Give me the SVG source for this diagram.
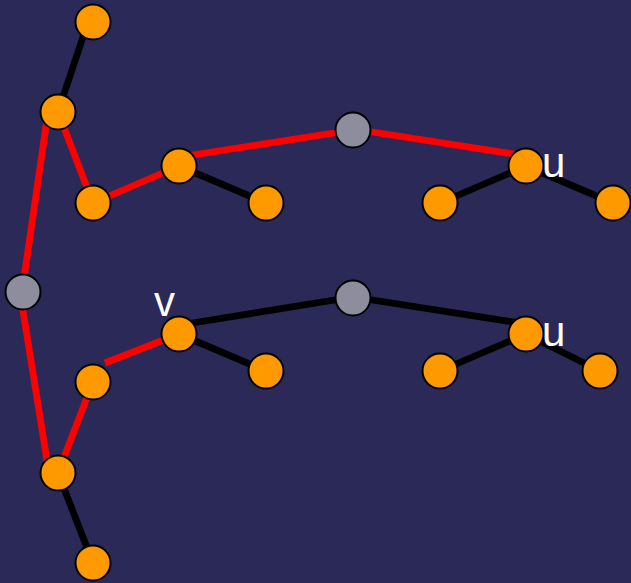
<svg xmlns="http://www.w3.org/2000/svg" width="631" height="583" viewBox="0 0 631 583">
<style>
.e{stroke-width:6.8;stroke-linecap:butt;fill:none}
.k{stroke:#000}
.r{stroke:#ff0000}
.o{fill:#ff9900;stroke:#000;stroke-width:2}
.g{fill:#8e8d9e;stroke:#000;stroke-width:2}
.t{fill:#fff;font-family:"Liberation Sans",Arial,sans-serif;font-size:42px}
</style>
<rect width="631" height="583" fill="#2b2958"/>
<g id="connectors">
<line class="e k" x1="88" y1="22" x2="58" y2="112"/>
<line class="e r" x1="58" y1="112" x2="93" y2="203"/>
<line class="e r" x1="48" y1="112" x2="22" y2="292"/>
<line class="e r" x1="93" y1="203" x2="179" y2="166"/>
<line class="e k" x1="179" y1="166" x2="266" y2="203"/>
<line class="e r" x1="180" y1="157" x2="353" y2="130"/>
<line class="e r" x1="353" y1="129" x2="526" y2="156"/>
<line class="e k" x1="526" y1="166" x2="440" y2="203"/>
<line class="e k" x1="526" y1="166" x2="613" y2="203"/>
<line class="e r" x1="20" y1="292" x2="49" y2="473"/>
<line class="e r" x1="58" y1="473" x2="93" y2="382"/>
<line class="e k" x1="58" y1="473" x2="93" y2="563"/>
<line class="e r" x1="105" y1="363" x2="179" y2="334"/>
<line class="e k" x1="179" y1="334" x2="266" y2="371"/>
<line class="e k" x1="180" y1="325" x2="353" y2="297"/>
<line class="e k" x1="353" y1="297" x2="526" y2="324"/>
<line class="e k" x1="526" y1="334" x2="440" y2="371"/>
<line class="e k" x1="526" y1="334" x2="600" y2="371"/>
</g>
<g id="n1"><circle class="o" cx="93" cy="22" r="17.5"/></g>
<g id="n2"><circle class="o" cx="58" cy="112" r="17.5"/></g>
<g id="n3"><circle class="o" cx="93" cy="203" r="17.5"/></g>
<g id="n4"><circle class="o" cx="179" cy="166" r="17.5"/></g>
<g id="n5"><circle class="o" cx="266" cy="203" r="17.5"/></g>
<g id="n6"><circle class="g" cx="353" cy="130" r="17.5"/></g>
<g id="n7"><circle class="o" cx="526" cy="166" r="17.5"/><text class="t" x="542" y="177">u</text></g>
<g id="n8"><circle class="o" cx="440" cy="203" r="17.5"/></g>
<g id="n9"><circle class="o" cx="613" cy="203" r="17.5"/></g>
<g id="n10"><circle class="g" cx="23" cy="292" r="17.5"/></g>
<g id="n11"><circle class="o" cx="179" cy="334" r="17.5"/><text class="t" x="154" y="316">v</text></g>
<g id="n12"><circle class="o" cx="266" cy="371" r="17.5"/></g>
<g id="n13"><circle class="g" cx="353" cy="298" r="17.5"/></g>
<g id="n14"><circle class="o" cx="526" cy="334" r="17.5"/><text class="t" x="542" y="346">u</text></g>
<g id="n15"><circle class="o" cx="440" cy="371" r="17.5"/></g>
<g id="n16"><circle class="o" cx="600" cy="371" r="17.5"/></g>
<g id="n17"><circle class="o" cx="93" cy="382" r="17.5"/></g>
<g id="n18"><circle class="o" cx="58" cy="473" r="17.5"/></g>
<g id="n19"><circle class="o" cx="93" cy="563" r="17.5"/></g>
</svg>
